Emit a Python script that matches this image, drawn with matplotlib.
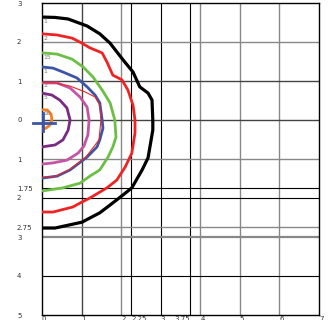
import matplotlib
matplotlib.use("Agg")
import matplotlib.pyplot as plt

# contour outlines, traced as (x, y) pairs, outermost first
black_x = [0, 0.33, 0.66, 1.14, 1.46, 1.72, 2.05, 2.30, 2.47, 2.68, 2.78, 2.80, 2.80, 2.68, 2.53, 2.27, 2.05, 1.72, 1.46, 1.01, 0.33, 0]
black_y = [2.64, 2.63, 2.59, 2.41, 2.21, 1.97, 1.54, 1.23, 0.85, 0.69, 0.51, 0.0, -0.26, -0.97, -1.28, -1.74, -1.92, -2.18, -2.38, -2.62, -2.77, -2.77]

red_x = [0, 0.38, 0.76, 1.01, 1.21, 1.52, 1.64, 1.79, 2.02, 2.17, 2.30, 2.35, 2.35, 2.27, 2.10, 1.89, 1.64, 1.21, 0.96, 0.78, 0.28, 0]
red_y = [2.21, 2.18, 2.10, 1.97, 1.85, 1.72, 1.49, 1.15, 1.03, 0.77, 0.38, 0, -0.33, -0.85, -1.21, -1.54, -1.74, -2.0, -2.13, -2.23, -2.36, -2.36]

green_x = [0, 0.38, 0.76, 1.04, 1.29, 1.52, 1.72, 1.84, 1.87, 1.79, 1.67, 1.46, 1.21, 0.96, 0.53, 0]
green_y = [1.72, 1.69, 1.56, 1.36, 1.10, 0.77, 0.44, 0, -0.44, -0.69, -0.95, -1.28, -1.44, -1.62, -1.74, -1.82]

blue_x = [0, 0.28, 0.53, 0.88, 1.14, 1.34, 1.46, 1.52, 1.54, 1.46, 1.39, 1.14, 0.71, 0.38, 0]
blue_y = [1.36, 1.33, 1.23, 1.08, 0.85, 0.64, 0.44, 0, -0.21, -0.51, -0.69, -0.95, -1.28, -1.44, -1.49]

thin_x = [0, 0.33, 0.71, 1.09, 1.34, 1.46, 1.49, 1.44, 1.11, 0.68, 0.35, 0]
thin_y = [0.97, 0.95, 0.87, 0.72, 0.59, 0.38, 0, -0.51, -0.95, -1.28, -1.44, -1.47]

pink_x = [0, 0.38, 0.71, 0.96, 1.14, 1.19, 1.16, 1.06, 0.91, 0.63, 0.28, 0]
pink_y = [0.95, 0.95, 0.82, 0.59, 0.33, 0, -0.38, -0.67, -0.85, -1.03, -1.10, -1.13]

purple_x = [0, 0.25, 0.45, 0.63, 0.71, 0.66, 0.53, 0.33, 0]
purple_y = [0.69, 0.64, 0.51, 0.31, 0, -0.26, -0.51, -0.64, -0.69]

orange_x = [0, 0.13, 0.23, 0.25, 0.20, 0.10, 0]
orange_y = [0.26, 0.26, 0.15, 0, -0.13, -0.21, -0.23]

# small labels next to where each outline starts
curve_labels = ["1", "2", "15", "1", "2", "5", "10"]
label_y = [2.52, 2.10, 1.60, 1.25, 0.88, 0.57, 0.16]

xticks = [0, 1, 2, 2.25, 3, 3.75, 4, 5, 6, 7]
xlabels = ["0", "1", "2", "2.25", "3", "3.75", "4", "5", "6", "7"]
yticks = [3, 2, 1, 0, -1, -1.75, -2, -2.75, -3, -4, -5]
ylabels = ["3", "2", "1", "0", "1", "1.75", "2", "2.75", "3", "4", "5"]

# grid lines: value, colour, width
vlines = [(1, "#444444", 1.0), (2, "#888888", 1.0), (2.25, "black", 0.8), (3, "black", 0.8),
          (3.75, "black", 0.8), (4, "#888888", 1.0), (5, "#888888", 1.0), (6, "#888888", 1.0)]
hlines = [(2, "#888888", 1.0), (1, "#444444", 1.0), (0, "#444444", 1.0), (-1, "#888888", 1.0),
          (-1.75, "black", 0.8), (-2, "black", 0.8), (-2.75, "#888888", 1.0),
          (-3, "#888888", 1.6), (-4, "black", 0.8)]

fig = plt.figure(figsize=(3.29, 3.2), dpi=100)
ax = fig.add_axes([42 / 329, 5 / 320, 277 / 329, 312 / 320])
ax.set_xlim(0, 7)
ax.set_ylim(-5, 3)

for v, c, w in vlines:
    ax.axvline(v, color=c, lw=w, zorder=1)
for v, c, w in hlines:
    ax.axhline(v, color=c, lw=w, zorder=1)

style = dict(solid_joinstyle="round", solid_capstyle="round", zorder=3)
ax.plot(black_x, black_y, color="black", lw=2.3, **style)
ax.plot(red_x, red_y, color="#ee2424", lw=2.0, **style)
ax.plot(green_x, green_y, color="#6cbf45", lw=2.0, **style)
ax.plot(blue_x, blue_y, color="#3d55a6", lw=2.0, **style)
ax.plot(pink_x, pink_y, color="#c455a6", lw=2.0, **style)
ax.plot(purple_x, purple_y, color="#7a2a82", lw=2.0, **style)
ax.plot(orange_x, orange_y, color="#f47e20", lw=2.0, **style)
ax.plot(thin_x, thin_y, color="#ee2424", lw=0.8, solid_joinstyle="round", zorder=4)

# cross at the origin
ax.plot([-0.23, 0.33], [-0.07, -0.07], color="#3d55a6", lw=2.0, clip_on=False, zorder=5)
ax.plot([0.03, 0.03], [0.18, -0.28], color="#3d55a6", lw=2.0, clip_on=False, zorder=5)

for txt, yy in zip(curve_labels, label_y):
    ax.text(0.04, yy, txt, fontsize=4.5, color="#777777", va="center", ha="left", zorder=6)

ax.set_xticks(xticks)
ax.set_xticklabels(xlabels, fontsize=5, color="#333333", ha="left")
# 3.75 sits just left of its line so it does not run into 4
ax.get_xticklabels()[5].set_horizontalalignment("right")
ax.set_yticks(yticks)
ax.set_yticklabels(ylabels, fontsize=5, color="#333333", ha="left")
ax.tick_params(axis="both", length=0)
ax.tick_params(axis="y", pad=18)
ax.tick_params(axis="x", pad=1)
for s in ax.spines.values():
    s.set_color("black")
    s.set_linewidth(1.0)

fig.savefig("out.png", dpi=100)
